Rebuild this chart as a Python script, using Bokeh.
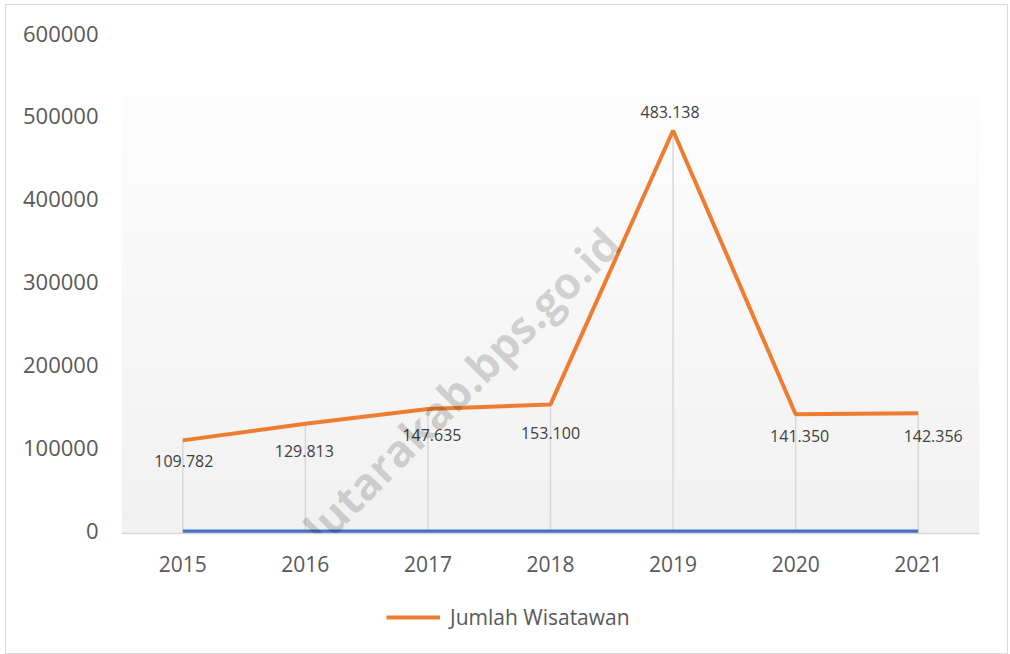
from bokeh.plotting import figure
from bokeh.layouts import column
from bokeh.models import (Range1d, FixedTicker, NumeralTickFormatter, Legend,
                          LegendItem, Label)
from bokeh.core.properties import value
from bokeh.embed import file_html
from bokeh.resources import INLINE

# ---------------- data ----------------
years = [2015, 2016, 2017, 2018, 2019, 2020, 2021]
wisatawan = [109782, 129813, 147635, 153100, 483138, 141350, 142356]
wisatawan_labels = ["109.782", "129.813", "147.635", "153.100",
                    "483.138", "141.350", "142.356"]
base_series = [0, 0, 0, 0, 0, 0, 0]
y_ticks = [0, 100000, 200000, 300000, 400000, 500000, 600000]
legend_label = "Jumlah Wisatawan"
watermark_text = "tapanulutarakab.bps.go.id"

# ---------------- styling (label nudges in px) ----------------
label_dx = [1, -1, 4, 0, -3, 4, 15]
label_dy = [21, 27, 26, 29, -18, 22, 23]

FONT = "Open Sans"
TICK_COLOR = "#595959"
ORANGE = "#ED7D31"

p = figure(frame_width=858, frame_height=500,
           x_range=Range1d(2014.5, 2021.5),
           y_range=Range1d(-2410, 600000),
           output_backend="svg", toolbar_location=None,
           min_border_left=115, min_border_right=28,
           min_border_top=28, min_border_bottom=45,
           outline_line_color=None,
           background_fill_color="white", border_fill_color="white")

p.xgrid.visible = False
p.ygrid.visible = False

# gradient plot-area background (decoration)
n_bands = 40
g_bottom, g_top = -2410, 523000
band_h = (g_top - g_bottom) / n_bands
c_bot, c_top = 241, 253
for i in range(n_bands):
    t = (i + 0.5) / n_bands
    c = round(c_bot + (c_top - c_bot) * t)
    p.quad(left=2014.5, right=2021.5,
           bottom=g_bottom + i * band_h, top=g_bottom + (i + 1) * band_h + band_h * 0.02,
           fill_color=(c, c, c), line_color=None)

# drop lines
p.segment(x0=years, y0=base_series, x1=years, y1=wisatawan,
          line_color="#d9d9d9", line_width=1.5)

# base (blue) series
p.line(years, base_series, line_color="#4472C4", line_width=4)

# main series
r_main = p.line(years, wisatawan, line_color=ORANGE, line_width=4)

# data labels
p.text(x=years, y=wisatawan, text=wisatawan_labels,
       x_offset=label_dx, y_offset=label_dy,
       text_align="center", text_baseline="middle",
       text_font=value(FONT), text_font_size="16px", text_color="#404040")

# axes
p.yaxis.ticker = FixedTicker(ticks=y_ticks)
p.yaxis.formatter = NumeralTickFormatter(format="0")
p.yaxis.axis_line_color = None
p.yaxis.major_tick_line_color = None
p.yaxis.minor_tick_line_color = None
p.yaxis.major_label_standoff = 17
p.yaxis.major_label_text_font = FONT
p.yaxis.major_label_text_font_size = "22px"
p.yaxis.major_label_text_color = TICK_COLOR

p.xaxis.ticker = FixedTicker(ticks=years)
p.xaxis.axis_line_color = "#d9d9d9"
p.xaxis.axis_line_width = 1.5
p.xaxis.major_tick_line_color = None
p.xaxis.minor_tick_line_color = None
p.xaxis.major_label_standoff = 16
p.xaxis.major_label_text_font = FONT
p.xaxis.major_label_text_font_size = "21px"
p.xaxis.major_label_text_color = TICK_COLOR

# watermark
wm = Label(x=490, y=298, x_units="screen", y_units="screen",
           text=watermark_text, angle=0.785, text_align="right",
           text_baseline="alphabetic", text_font=FONT,
           text_font_style="bold", text_font_size="44px",
           text_color="#000000", text_alpha=0.16)
p.add_layout(wm)

# legend strip below the chart (series drawn out of view; only its legend shows)
p_leg = figure(width=1001, height=75, x_range=Range1d(0, 1), y_range=Range1d(0, 1),
               output_backend="svg", toolbar_location=None,
               min_border=0, outline_line_color=None,
               background_fill_color="white", border_fill_color="white")
p_leg.axis.visible = False
p_leg.grid.visible = False
r_leg = p_leg.line(x=years, y=wisatawan, line_color=ORANGE, line_width=4)

legend = Legend(items=[LegendItem(label=legend_label, renderers=[r_leg])],
                location=(265, 22), orientation="horizontal",
                glyph_width=54, glyph_height=20, label_standoff=10,
                padding=0, margin=0, border_line_color=None,
                background_fill_alpha=0,
                label_text_font=FONT, label_text_font_size="21px",
                label_text_color=TICK_COLOR)
p_leg.add_layout(legend, "center")

layout = column(p, p_leg, spacing=0,
                styles={"border": "1px solid #d9d9d9",
                        "margin-left": "5px", "margin-top": "4px"})

open("out.html", "w").write(file_html(layout, INLINE))
